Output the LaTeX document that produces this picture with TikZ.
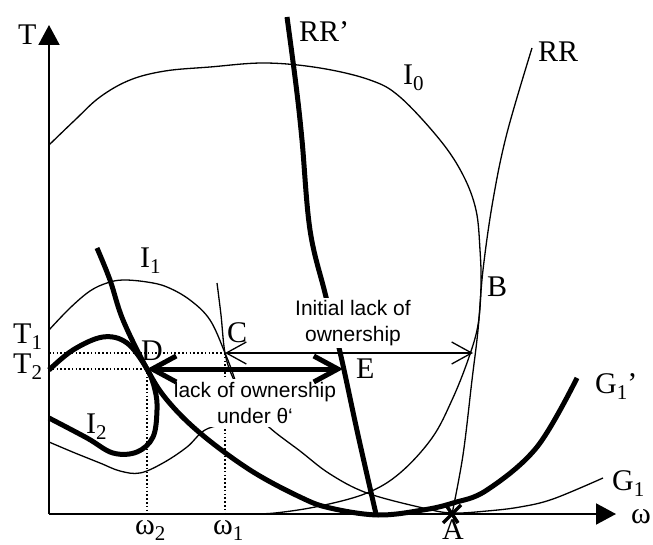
\documentclass[tikz,border=0pt]{standalone}
\usepackage{fontspec}
\setmainfont{Liberation Serif}
\newfontfamily\labelsans{Liberation Sans}
\usetikzlibrary{arrows.meta}
\newcommand\lowsub[1]{\raisebox{-6pt}{\fontsize{21}{21}\selectfont #1}}

\begin{document}
\begin{tikzpicture}[x=1pt, y=-1pt,
    thincurve/.style={line width=1.3pt},
    boldcurve/.style={line width=5pt},
    guide/.style={line width=1.6pt, dash pattern=on 1.6pt off 2.2pt},
    lbl/.style={font=\fontsize{30}{36}\selectfont, inner sep=0pt, anchor=base west},
    note/.style={font=\labelsans\fontsize{21}{26}\selectfont, align=center,
        fill=white, inner xsep=3pt, inner ysep=2pt}]
    \useasboundingbox (0,0) rectangle (653,545);

    % Axes
    \coordinate (o) at (49,514);
    \coordinate (ytop) at (49,25);
    \coordinate (xend) at (616,514);
    \draw[line width=2pt, -{Triangle[length=20pt, width=21pt]}] (o) -- (ytop);
    \draw[line width=2pt, -{Triangle[length=20pt, width=21pt]}] (o) -- (xend);
    \node[lbl] (tlab) at (18,45) {T};
    \node[lbl] (wlab) at (631,523) {ω};

    % Thin curves: I0, I1, G1 and RR
    \draw[thincurve] plot[smooth, tension=0.6] coordinates {
        (49,145) (75,120) (100,97) (130,80) (165,71) (210,67) (265,63)
        (320,68) (370,80) (400,97) (440,140) (463,175) (476,210) (480,250)
        (481,285) (478,325) (468,360) (452,400) (432,438) (400,473)
        (367,493) (320,506) (275,513) (245,514)};
    \draw[thincurve] plot[smooth, tension=0.6] coordinates {
        (49,330) (70,308) (90,291) (107,283) (123,280) (147,282) (167,287)
        (190,300) (210,320) (225,353) (235,380) (240,402) (232,420)
        (205,430) (187,447) (163,463) (140,473) (120,471) (100,463)
        (75,453) (49,442)};
    \draw[thincurve] plot[smooth, tension=0.6] coordinates {
        (217,283) (221,315) (225,353) (233,378) (248,405) (270,428)
        (300,451) (330,474) (367,493) (423,508) (452,513) (487,511)
        (520,507) (553,499) (603,478)};
    \draw[thincurve] plot[smooth, tension=0.6] coordinates {
        (532,48) (507,133) (493,200) (483,270) (478,330) (472,380)
        (463,455) (452,514)};

    % Points on the T1 and T2 levels
    \coordinate (c) at (225,353);
    \coordinate (b) at (473,353);
    \coordinate (d) at (147,369);
    \coordinate (e) at (343,369);
    \coordinate (a) at (452,514);

    % Dotted guides
    \draw[guide] (o |- c) -- (c);
    \draw[guide] (o |- d) -- (d);
    \draw[guide] (d) -- (d |- o);
    \draw[guide] (c) -- (c |- o);

    % Initial lack of ownership
    \draw[thincurve, {Straight Barb[length=20pt, width=22pt]}-{Straight Barb[length=20pt, width=22pt]}]
        (c) -- (b);

    % RR' (thick)
    \draw[boldcurve] plot[smooth, tension=0.6] coordinates {
        (287,17) (296,85) (302,140) (310,230) (325,293) (340,352)
        (358,435) (376,514)};

    % Text boxes
    \node[note] (initial) at (353,323) {Initial lack of\\ownership};
    \node[note, inner ysep=3pt] (theta) at (255,403) {lack of ownership\\under θ‘};

    % G1' and I2 (thick)
    \draw[boldcurve] plot[smooth, tension=0.6] coordinates {
        (97,248) (110,280) (123,320) (147,369) (167,400) (200,433)
        (250,470) (300,497) (330,508) (378,515) (423,510) (453,503)
        (487,490) (537,447) (577,378)};
    \draw[boldcurve] plot[smooth, tension=0.6] coordinates {
        (49,370) (73,350) (103,337) (127,343) (147,369) (155,390)
        (157,410) (153,437) (137,452) (113,453) (87,438) (49,418)};

    % Lack of ownership under theta'
    \draw[boldcurve, {Straight Barb[length=24pt, width=26pt]}-{Straight Barb[length=24pt, width=26pt]}]
        (d) -- (e);

    % Cross at A
    \draw[line width=3.5pt] ([shift={(-9,9)}]a) -- ([shift={(9,-9)}]a);
    \draw[line width=3.5pt] ([shift={(-6,-9)}]a) -- ([shift={(6,9)}]a);

    % Labels
    \node[lbl] (rrp) at (299,42) {RR’};
    \node[lbl] (rr) at (538,62) {RR};
    \node[lbl] (i0) at (403,85) {I\lowsub{0}};
    \node[lbl] (i1) at (140,268) {I\lowsub{1}};
    \node[lbl] (i2) at (86,433) {I\lowsub{2}};
    \node[lbl] (blab) at (487,297) {B};
    \node[lbl] (clab) at (227,342) {C};
    \node[lbl] (dlab) at (141,360) {D};
    \node[lbl] (elab) at (356,378) {E};
    \node[lbl] (alab) at (442,539) {A};
    \node[lbl] (g1p) at (595,393) {G\lowsub{1}’};
    \node[lbl] (g1) at (612,490) {G\lowsub{1}};
    \node[lbl] (t1) at (13,343) {T\lowsub{1}};
    \node[lbl] (t2) at (13,373) {T\lowsub{2}};
    \node[lbl] (w2) at (135,534) {ω\lowsub{2}};
    \node[lbl] (w1) at (213,534) {ω\lowsub{1}};
\end{tikzpicture}
\end{document}
